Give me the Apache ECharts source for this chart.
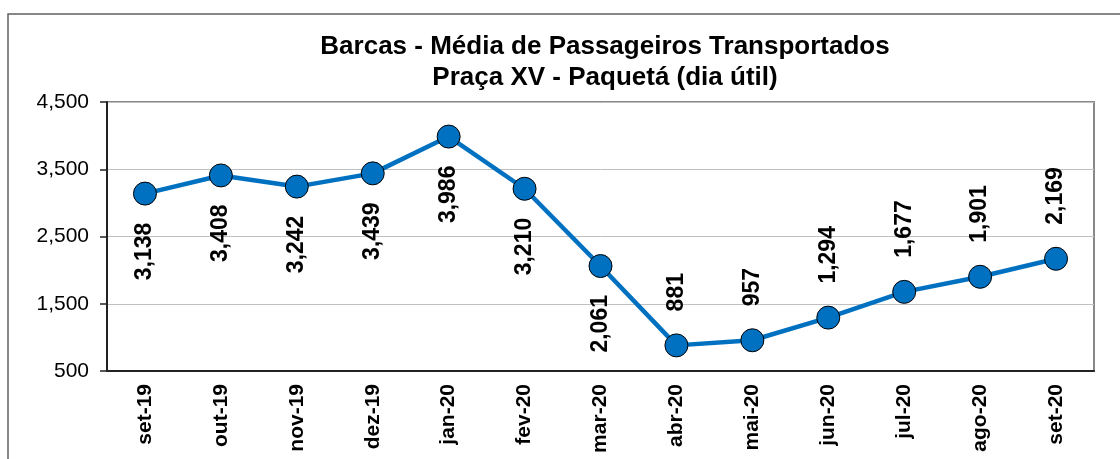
<!DOCTYPE html>
<html lang="pt">
<head>
  <meta charset="UTF-8">
  <title>Barcas - Média de Passageiros Transportados</title>
  <script src="https://cdn.jsdelivr.net/npm/echarts@6/dist/echarts.min.js"></script>
  <style>
    body { margin: 0; background: #ffffff; }
    #chart { width: 1120px; height: 459px; }
  </style>
</head>
<body>
  <div id="chart"></div>
  <script>
    const months = ['set-19', 'out-19', 'nov-19', 'dez-19', 'jan-20', 'fev-20', 'mar-20',
                    'abr-20', 'mai-20', 'jun-20', 'jul-20', 'ago-20', 'set-20'];
    const passengers = [3138, 3408, 3242, 3439, 3986, 3210, 2061, 881, 957, 1294, 1677, 1901, 2169];

    const chart = echarts.init(document.getElementById('chart'));
    const fmt = v => v.toLocaleString('en-US');

    // os primeiros meses têm o rótulo abaixo do ponto, os outros acima
    const points = passengers.map((v, i) => ({
      value: v,
      label: i < 7
        ? { position: 'bottom', align: 'right', distance: 17 }
        : { position: 'top', align: 'left', distance: 22 }
    }));

    chart.setOption({
      backgroundColor: '#ffffff',
      textStyle: { fontFamily: 'Liberation Sans, Arial, sans-serif' },
      title: {
        text: 'Barcas - Média de Passageiros Transportados\nPraça XV - Paquetá (dia útil)',
        left: 600,
        textAlign: 'center',
        top: 26,
        textStyle: { fontSize: 26, fontWeight: 'bold', color: '#000', lineHeight: 31 }
      },
      graphic: [{
        type: 'rect',
        shape: { x: 8, y: 14, width: 1300, height: 600 },
        style: { fill: 'none', stroke: '#606060', lineWidth: 1.5 },
        silent: true
      }],
      grid: {
        left: 107, right: 26, top: 102, bottom: 88,
        show: true, borderColor: '#888', borderWidth: 2
      },
      xAxis: {
        type: 'category',
        data: months,
        axisLine: { lineStyle: { color: '#222', width: 2 } },
        axisTick: { length: 7, lineStyle: { color: '#222', width: 1.5 } },
        axisLabel: {
          rotate: 90, interval: 0, color: '#000',
          fontSize: 21, fontWeight: 'bold', margin: 13
        }
      },
      yAxis: {
        type: 'value',
        min: 500, max: 4500, interval: 1000,
        axisLine: { show: true, lineStyle: { color: '#222', width: 2 } },
        axisTick: { show: true, length: 7, lineStyle: { color: '#222', width: 1.5 } },
        axisLabel: { color: '#000', fontSize: 21, margin: 18, formatter: fmt },
        splitLine: { lineStyle: { color: '#c0c0c0', width: 1 } }
      },
      series: [{
        type: 'line',
        data: points,
        symbol: 'circle',
        symbolSize: 23,
        lineStyle: { color: '#0070C0', width: 4.5 },
        itemStyle: { color: '#0070C0', borderColor: '#000', borderWidth: 1 },
        label: {
          show: true, rotate: 90, verticalAlign: 'middle',
          color: '#000', fontSize: 23, fontWeight: 'bold',
          formatter: p => fmt(p.value)
        },
        animation: false
      }]
    });
  </script>
</body>
</html>
